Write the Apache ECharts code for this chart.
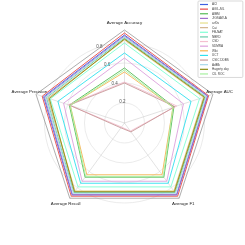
<!DOCTYPE html>
<html><head><meta charset="utf-8">
<script src="https://cdn.jsdelivr.net/npm/echarts@6/dist/echarts.min.js"></script>
<style>html,body{margin:0;padding:0;background:#fff}#c{width:245px;height:245px}</style>
</head><body><div id="c"></div>
<script>
// Axes (counter-clockwise from top)
const indicators = ['Average Accuracy', 'Average Precision', 'Average Recall', 'Average F1', 'Average AUC'];
const tickLabels = [0.2, 0.4, 0.6, 0.8];
const frameMax = 0.93;

const seriesNames = ['ACI', 'AGIL-ML', 'AIBM', 'JIGSAW-A', 'arXiv', 'Cai', 'FB-NAT', 'NBRD',
  'CSD', 'SDMRA', 'Wiki', 'UCT', 'CSIC DDBS', 'AdBlk', 'Hagerty day', 'CIL ROC'];
const seriesColors = ['#3f5fe0', '#e84848', '#55bb55', '#a070cc', '#e6df8a', '#d2b48c', '#7fffd4', '#66cdaa',
  '#f4bfd0', '#dda0dd', '#f5b451', '#30e0ee', '#c89a9a', '#a8d8ea', '#8c8c10', '#a6f0a0'];

// values: [Accuracy, Precision, Recall, F1, AUC]
const ACI        = [0.88, 0.85, 0.89, 0.89, 0.875];
const AGIL_ML    = [0.90, 0.865, 0.905, 0.905, 0.885];
const AIBM       = [0.55, 0.58, 0.67, 0.67, 0.52];
const JIGSAW_A   = [0.87, 0.84, 0.885, 0.885, 0.87];
const arXiv      = [0.83, 0.80, 0.84, 0.84, 0.83];
const Cai        = [0.835, 0.805, 0.845, 0.845, 0.835];
const FB_NAT     = [0.80, 0.78, 0.79, 0.79, 0.79];
const NBRD       = [0.85, 0.82, 0.86, 0.86, 0.85];
const CSD        = [0.41, 0.59, 0.05, 0.10, 0.55];
const SDMRA      = [0.65, 0.64, 0.72, 0.72, 0.62];
const Wiki       = [0.51, 0.57, 0.64, 0.64, 0.51];
const UCT        = [0.70, 0.70, 0.745, 0.745, 0.70];
const CSIC_DDBS  = [0.40, 0.58, 0.06, 0.11, 0.53];
const AdBlk      = [0.86, 0.83, 0.87, 0.87, 0.86];
const Hagerty    = [0.84, 0.79, 0.85, 0.85, 0.84];
const CIL_ROC    = [0.53, 0.57, 0.66, 0.66, 0.51];
const seriesValues = [ACI, AGIL_ML, AIBM, JIGSAW_A, arXiv, Cai, FB_NAT, NBRD,
  CSD, SDMRA, Wiki, UCT, CSIC_DDBS, AdBlk, Hagerty, CIL_ROC];

const center = ['50.8%', '50.2%'];
const chart = echarts.init(document.getElementById('c'), null, {renderer: 'canvas'});
chart.setOption({
  animation: false,
  backgroundColor: '#fff',
  legend: {
    orient: 'vertical', left: 198, top: 1,
    padding: [2, 14, 2, 2],
    borderColor: '#cfcfcf', borderWidth: 0.8, borderRadius: 1,
    backgroundColor: '#fff',
    icon: 'rect', itemWidth: 8, itemHeight: 1.2, itemGap: 1.63,
    textStyle: {fontSize: 3.1, lineHeight: 3, color: '#444', padding: [0, 0, 0, -1]},
    data: seriesNames
  },
  radar: [
    {
      // circular grid + tick labels (rotated label axis)
      center: center, radius: 100, startAngle: 112.5, shape: 'circle',
      splitNumber: 5,
      indicator: indicators.map((n, i) => ({
        name: '', min: 0, max: 1,
        axisLabel: i === 0 ? {
          show: true, fontSize: 4.5, color: '#555', margin: -6,
          align: 'center', verticalAlign: 'middle',
          formatter: v => (tickLabels.some(t => Math.abs(t - v) < 1e-6) ? v.toFixed(1) : '')
        } : {show: false}
      })),
      axisName: {show: false},
      axisLine: {show: false},
      axisTick: {show: false},
      splitArea: {show: false},
      splitLine: {lineStyle: {color: ['#ddd', '#ddd', '#ddd', '#ddd', '#ddd', 'rgba(0,0,0,0)'], width: 0.6}}
    },
    {
      // polygon frame, spokes and axis names
      center: center, radius: 93, startAngle: 90, shape: 'polygon',
      splitNumber: 1,
      indicator: indicators.map(n => ({name: n, min: 0, max: frameMax})),
      axisName: {color: '#222', fontSize: 4.4, align: 'center', verticalAlign: 'middle'},
      nameGap: 7,
      axisLine: {lineStyle: {color: '#d0d0d0', width: 0.6}},
      axisTick: {show: false},
      axisLabel: {show: false},
      splitArea: {show: false},
      splitLine: {lineStyle: {color: '#8a8a8a', width: 0.7}}
    }
  ],
  series: seriesNames.map((name, i) => ({
    type: 'radar', radarIndex: 1, name: name,
    symbol: 'none', silent: true,
    itemStyle: {color: seriesColors[i]},
    lineStyle: {color: seriesColors[i], width: 0.9},
    data: [{name: name, value: seriesValues[i]}]
  }))
});
</script></body></html>
